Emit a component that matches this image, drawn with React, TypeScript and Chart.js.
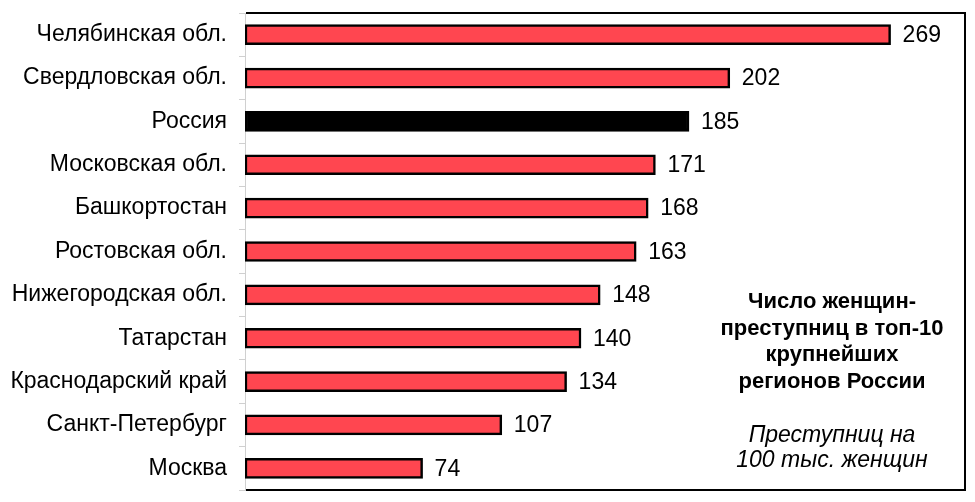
import React, { useEffect, useRef } from "react";
import { Chart, registerables } from "chart.js";

Chart.register(...registerables);

const categories = [
  "Челябинская обл.",
  "Свердловская обл.",
  "Россия",
  "Московская обл.",
  "Башкортостан",
  "Ростовская обл.",
  "Нижегородская обл.",
  "Татарстан",
  "Краснодарский край",
  "Санкт-Петербург",
  "Москва",
];
const values = [269, 202, 185, 171, 168, 163, 148, 140, 134, 107, 74];
const highlighted = "Россия";
const titleLines = ["Число женщин-", "преступниц в топ-10", "крупнейших", "регионов России"];
const noteLines = ["Преступниц на", "100 тыс. женщин"];
const xMax = 300;

const FONT = "'Liberation Sans', Arial, sans-serif";

export default function App() {
  const ref = useRef<HTMLCanvasElement | null>(null);
  useEffect(() => {
    if (!ref.current) return;
    const framePlugin = {
      id: "frame",
      afterDatasetsDraw(chart: any) {
        const { ctx, chartArea } = chart;
        const { left, top, right, bottom } = chartArea;
        ctx.save();
        ctx.strokeStyle = "#000";
        ctx.lineWidth = 2;
        ctx.beginPath();
        ctx.moveTo(left + 1, top);
        ctx.lineTo(right, top);
        ctx.lineTo(right, bottom);
        ctx.lineTo(left + 1, bottom);
        ctx.stroke();
        // value labels
        const meta = chart.getDatasetMeta(0);
        ctx.fillStyle = "#000";
        ctx.font = `23px ${FONT}`;
        ctx.textAlign = "left";
        ctx.textBaseline = "middle";
        meta.data.forEach((bar: any, i: number) => {
          ctx.fillText(String(values[i]), bar.x + 12, bar.y + 1);
        });
        // annotation
        const cx = 832;
        ctx.textAlign = "center";
        ctx.font = `bold 22px ${FONT}`;
        titleLines.forEach((t, i) => ctx.fillText(t, cx, 302 + i * 26.7));
        ctx.font = `italic 23px ${FONT}`;
        noteLines.forEach((t, i) => ctx.fillText(t, cx, 436 + i * 25));
        ctx.restore();
      },
    };
    const chart = new Chart(ref.current, {
      type: "bar",
      data: {
        labels: categories,
        datasets: [
          {
            data: values,
            backgroundColor: categories.map((c) => (c === highlighted ? "#000" : "#FF4650")),
            borderColor: "#000",
            borderWidth: 2.5,
            barThickness: 20,
            borderSkipped: false,
          },
        ],
      },
      options: {
        indexAxis: "y",
        animation: false,
        responsive: false,
        maintainAspectRatio: false,
        layout: { padding: { left: 0, top: 13, right: 10, bottom: 12 } },
        plugins: { legend: { display: false }, tooltip: { enabled: false } },
        scales: {
          x: { display: false, min: 0, max: xMax },
          y: {
            afterFit: (s: any) => {
              s.width = 245;
              s.paddingTop = 0;
              s.paddingBottom = 0;
            },
            ticks: { color: "#000", font: { family: FONT, size: 23 }, padding: 12 },
            grid: {
              drawOnChartArea: false,
              drawTicks: true,
              tickLength: 6,
              color: "#d0d0d0",
              offset: true,
            },
            border: { color: "#d0d0d0", width: 1 },
          },
        },
      },
      plugins: [framePlugin],
    });
    return () => chart.destroy();
  }, []);
  return (
    <div style={{ position: "fixed", left: 0, top: 0, width: 975, height: 502, background: "#fff" }}>
      <canvas ref={ref} width={975} height={502} style={{ display: "block" }} />
    </div>
  );
}
